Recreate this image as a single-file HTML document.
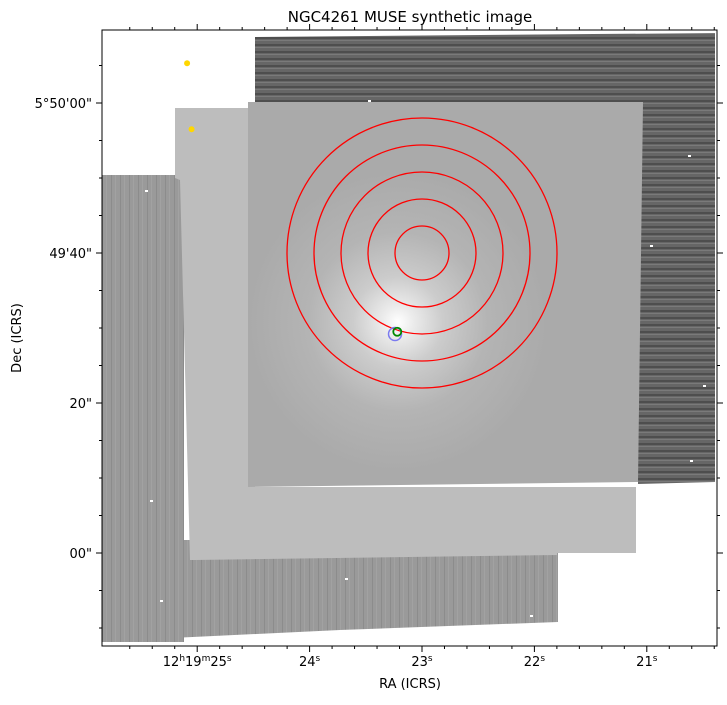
<!DOCTYPE html>
<html><head><meta charset="utf-8">
<style>
body{margin:0;background:#fff;width:727px;height:700px;overflow:hidden;font-family:"Liberation Sans","DejaVu Sans",sans-serif;}
svg text{font-family:"DejaVu Sans","Liberation Sans",sans-serif;}
</style></head>
<body>
<svg id="chart" width="727" height="700" xmlns="http://www.w3.org/2000/svg">
<defs>
<radialGradient id="glow" cx="398" cy="322" r="150" gradientUnits="userSpaceOnUse">
<stop offset="0" stop-color="#ffffff"/>
<stop offset="0.1" stop-color="#ececec"/>
<stop offset="0.3" stop-color="#cccccc"/>
<stop offset="0.6" stop-color="#b4b4b4"/>
<stop offset="1" stop-color="#aaaaaa"/>
</radialGradient>
<pattern id="hstreak" width="4" height="7" patternUnits="userSpaceOnUse">
<rect width="4" height="7" fill="#666"/>
<rect y="2" width="4" height="2" fill="#4e4e4e"/>
<rect y="5" width="4" height="1" fill="#7a7a7a"/>
</pattern>
<pattern id="vstreak" width="9" height="4" patternUnits="userSpaceOnUse">
<rect width="9" height="4" fill="#9a9a9a"/>
<rect x="3" width="1" height="4" fill="#8c8c8c"/>
<rect x="7" width="1" height="4" fill="#a2a2a2"/>
</pattern>
<clipPath id="plotclip"><rect x="102" y="30" width="615" height="616"/></clipPath>
</defs>
<text x="410" y="22" font-size="15" text-anchor="middle">NGC4261 MUSE synthetic image</text>
<g clip-path="url(#plotclip)">
<rect x="102" y="175" width="82" height="467" fill="url(#vstreak)"/>
<polygon points="108,540 558,540 558,622 340,630 108,641" fill="url(#vstreak)"/>
<polygon points="175,108 255,108 255,487 636,487 636,553 557,553 557,555 195,560 190,560 180,180 175,178" fill="#bdbdbd"/>
<polygon points="255,37 715,33 715,482 638,484 638,200 255,200" fill="url(#hstreak)"/>
<polygon points="248,102 643,102 638,482 248,487" fill="url(#glow)"/>
<g id="circles"></g>
</g>
<rect x="102" y="30" width="615" height="616" fill="none" stroke="#000" stroke-width="1"/>
<g id="axes"></g>
<text x="410" y="688" font-size="13" text-anchor="middle">RA (ICRS)</text>
<text x="21" y="338" font-size="13" text-anchor="middle" transform="rotate(-90 21 338)">Dec (ICRS)</text>
</svg>
<script>
const ringRadiiArcsec = [3.6, 7.2, 10.8, 14.4, 18.0];
const ringCenter = [23.0, 40.0];
const raTicks = [25, 24, 23, 22, 21];
const raLabels = ["12h19m25s", "24s", "23s", "22s", "21s"];
const decTicks = [60, 40, 20, 0];
const decLabels = ["5°50'00\"", "49'40\"", "20\"", "00\""];
const markerBlue = [23.24, 29.2];
const markerGreen = [23.22, 29.5];
const starsRA = [25.09, 25.05];
const starsDec = [65.3, 56.5];

const sx = s => 422 + (23 - s) * 112.4;
const sy = a => 253 - (a - 40) * 7.5;
const pxPerArcsec = 7.5;
const NS = "http://www.w3.org/2000/svg";
function mk(tag, attrs, parent){const e=document.createElementNS(NS,tag);for(const k in attrs)e.setAttribute(k,attrs[k]);parent.appendChild(e);return e;}

const cg = document.getElementById('circles');
ringRadiiArcsec.forEach((r,i)=>{
  const c = mk('circle',{cx:sx(ringCenter[0]),cy:sy(ringCenter[1]),r:r*pxPerArcsec,fill:'none',stroke:'#ff0000','stroke-width':1.3},cg);
  
  
});
const b = mk('circle',{cx:sx(markerBlue[0]),cy:sy(markerBlue[1]),r:6.5,fill:'none',stroke:'#7b7bf0','stroke-width':1.5},cg);


const g = mk('circle',{cx:sx(markerGreen[0]),cy:sy(markerGreen[1]),r:4,fill:'none',stroke:'#008800','stroke-width':1.8},cg);


starsRA.forEach((s,i)=>{
  const st = mk('circle',{cx:sx(s),cy:sy(starsDec[i]),r:3,fill:'#ffd700'},cg);
  
  
});
[[145,190],[150,500],[160,600],[345,578],[530,615],[690,460],[650,245],[703,385],[368,100],[688,155]].forEach(p=>{
  const d = mk('rect',{x:p[0],y:p[1],width:3,height:2,fill:'#fff'},cg);
  
  
});

const ax = document.getElementById('axes');
for(let s=25.6;s>=20.2;s-=0.2){
  const x=sx(s); if(x<102||x>717) continue;
  const major = Math.abs(s-Math.round(s))<0.01;
  const L = major?6:3;
  const t1=mk('line',{x1:x,x2:x,y1:646,y2:646+L,stroke:'#000'},ax);
  
  
  const t2=mk('line',{x1:x,x2:x,y1:30,y2:30-L,stroke:'#000'},ax);
  
  
}
raTicks.forEach((s,i)=>{
  const t=mk('text',{x:sx(s),y:666,'font-size':13,'text-anchor':'middle'},ax);
  
  
  if(i===0){t.innerHTML='12<tspan font-size="9" dy="-5">h</tspan><tspan dy="5">19</tspan><tspan font-size="9" dy="-5">m</tspan><tspan dy="5">25</tspan><tspan font-size="9" dy="-5">s</tspan>';}
  else{t.innerHTML=raLabels[i].replace('s','')+'<tspan font-size="9" dy="-5">s</tspan>';}
});
for(let a=-15;a<=70;a+=5){
  const y=sy(a); if(y<30||y>646) continue;
  const major = a%20===0;
  const L = major?6:3;
  const t1=mk('line',{x1:102,x2:102-L,y1:y,y2:y,stroke:'#000'},ax);
  
  
  const t2=mk('line',{x1:717,x2:717+L,y1:y,y2:y,stroke:'#000'},ax);
  
  
}
decTicks.forEach((a,i)=>{
  const t=mk('text',{x:92,y:sy(a)+5,'font-size':13,'text-anchor':'end'},ax);
  t.textContent=decLabels[i];
  
  
});
</script>
</body></html>
